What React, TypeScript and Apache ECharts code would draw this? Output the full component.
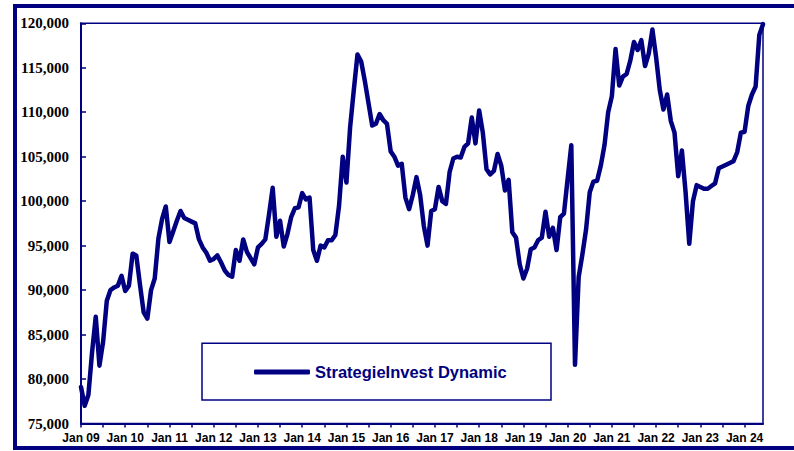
import React, { useEffect, useRef } from "react";
import * as echarts from "echarts";

const seriesName = "StrategieInvest Dynamic";
const startYear = 2009;
const monthNames = ["Jan", "Feb", "Mar", "Apr", "May", "Jun", "Jul", "Aug", "Sep", "Oct", "Nov", "Dec"];

const values2009_2011 = [
  79100, 77000, 78200, 83000, 87000, 81500, 84200, 88800, 90000, 90300, 90500, 91600,
  89900, 90500, 94100, 93900, 90600, 87500, 86800, 90000, 91300, 95800, 98000, 99400,
  95400, 96600, 97800, 98900, 98100, 97900, 97700, 97500, 95700, 94800, 94200, 93300,
];
const values2012_2014 = [
  93500, 93900, 93100, 92200, 91700, 91500, 94500, 93300, 95700, 94300, 93600, 92900,
  94800, 95200, 95700, 98500, 101500, 96000, 97800, 94900, 96300, 98200, 99200, 99300,
  100900, 100200, 100400, 94500, 93300, 95000, 94800, 95600, 95600, 96200, 99500, 105000,
];
const values2015_2017 = [
  102100, 108300, 112500, 116500, 115700, 113500, 111000, 108500, 108700, 109800, 109100, 108700,
  105600, 105000, 104000, 104200, 100400, 99100, 100700, 102700, 100700, 97200, 95000, 98900,
  99100, 101600, 100000, 99700, 103300, 104800, 105000, 104900, 106100, 106500, 109400, 106500,
];
const values2018_2020 = [
  110200, 107700, 103600, 103000, 103400, 105300, 104000, 101200, 102400, 96500, 95900, 92900,
  91300, 92400, 94600, 94800, 95600, 95900, 98800, 96000, 97000, 94500, 98200, 98600,
  102500, 106300, 81600, 91500, 94000, 96800, 101000, 102200, 102300, 104000, 106300, 110000,
];
const values2021_2024 = [
  111800, 117100, 113000, 114000, 114300, 115800, 117900, 117000, 118100, 115200, 116600, 119300,
  116200, 112500, 110300, 112000, 109000, 107700, 102800, 105700, 101000, 95200, 100000, 101800,
  101600, 101400, 101400, 101700, 102000, 103700, 103900, 104100, 104300, 104500, 105500, 107700,
  107800, 110700, 112000, 112900, 118700, 119900,
];

const values = [
  ...values2009_2011,
  ...values2012_2014,
  ...values2015_2017,
  ...values2018_2020,
  ...values2021_2024,
];

const categories = values.map((_, i) => {
  const y = startYear + Math.floor(i / 12);
  return `${monthNames[i % 12]} ${String(y % 100).padStart(2, "0")}`;
});

const yMin = 75000;
const yMax = 120000;
const yStep = 5000;

const NAVY = "#000080";

export default function App() {
  const ref = useRef<HTMLDivElement>(null);
  useEffect(() => {
    if (!ref.current) return;
    const chart = echarts.init(ref.current, undefined, { renderer: "svg" });
    chart.setOption({
      animation: false,
      backgroundColor: "#ffffff",
      grid: {
        left: 81,
        top: 23.3,
        right: 31,
        bottom: 27.5,
        show: true,
        borderColor: NAVY,
        borderWidth: 1.5,
        backgroundColor: "transparent",
      },
      legend: {
        show: true,
        data: [seriesName],
        left: 254,
        top: 363,
        padding: 0,
        icon: "roundRect",
        itemWidth: 56,
        itemHeight: 5,
        textStyle: {
          color: NAVY,
          fontFamily: "Liberation Sans, Arial, sans-serif",
          fontWeight: "bold",
          fontSize: 16.5,
          lineHeight: 18,
        },
      },
      graphic: [
        {
          type: "rect",
          shape: { x: 15, y: 6, width: 800, height: 442 },
          style: { fill: "none", stroke: NAVY, lineWidth: 4 },
          silent: true,
          z: 100,
        },
        {
          type: "rect",
          shape: { x: 202, y: 343.3, width: 349, height: 56.7 },
          style: { fill: "#ffffff", stroke: NAVY, lineWidth: 1.5 },
          silent: true,
          z: 0,
        },
      ],
      xAxis: {
        type: "category",
        data: categories,
        boundaryGap: false,
        axisLine: { show: true, lineStyle: { color: NAVY, width: 2 } },
        axisTick: {
          show: true,
          interval: (i: number) => i % 6 === 0,
          inside: false,
          length: 4,
          lineStyle: { color: NAVY, width: 1.5 },
        },
        axisLabel: {
          interval: (i: number) => i % 12 === 0,
          color: "#000000",
          fontFamily: "Liberation Sans, Arial, sans-serif",
          fontWeight: "bold",
          fontSize: 12,
          margin: 8,
          hideOverlap: false,
        },
        splitLine: { show: false },
      },
      yAxis: {
        type: "value",
        min: yMin,
        max: yMax,
        interval: yStep,
        axisLine: { show: true, lineStyle: { color: NAVY, width: 2 } },
        axisTick: {
          show: true,
          inside: true,
          length: 5,
          lineStyle: { color: NAVY, width: 1.5 },
        },
        axisLabel: {
          color: "#000000",
          fontFamily: "Liberation Serif, Times New Roman, serif",
          fontWeight: "bold",
          fontSize: 15,
          margin: 12,
          formatter: (v: number) => v.toLocaleString("en-US"),
        },
        splitLine: { show: false },
      },
      series: [
        {
          name: seriesName,
          type: "line",
          data: values,
          color: NAVY,
          showSymbol: false,
          symbol: "none",
          lineStyle: { color: NAVY, width: 4.5, join: "round", cap: "round" },
          itemStyle: { color: NAVY },
          z: 5,
        },
      ],
    });
    return () => chart.dispose();
  }, []);
  return (
    <div
      ref={ref}
      style={{ position: "absolute", left: 0, top: 0, width: 794, height: 451 }}
    />
  );
}
